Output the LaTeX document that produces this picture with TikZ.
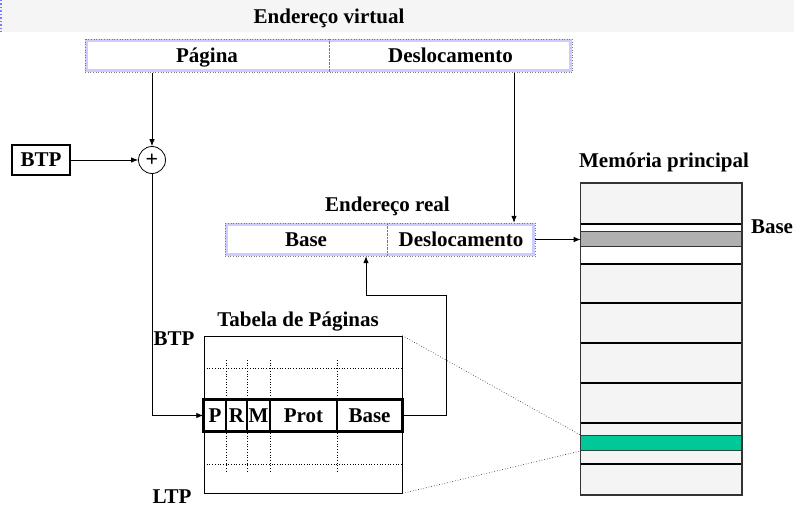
\documentclass[tikz,border=0pt]{standalone}
\usepackage{fontspec}
\setmainfont{Liberation Serif}
\usetikzlibrary{arrows.meta}
\definecolor{bannergray}{HTML}{F5F5F5}
\definecolor{cellgray}{HTML}{F4F4F4}
\definecolor{basegray}{HTML}{B0B0B0}
\definecolor{lavender}{HTML}{CCCCFF}
\definecolor{framegray}{HTML}{7A7A7A}
\definecolor{pagegreen}{HTML}{00C896}
\definecolor{pageedge}{HTML}{1F4A3C}
\definecolor{memedge}{HTML}{333333}
\begin{document}
\begin{tikzpicture}[x=1pt,y=-1pt,
  every node/.style={font=\fontsize{21}{24}\bfseries\selectfont,
    inner sep=0pt, text height=14pt, text depth=1pt},
  arr/.style={-{Latex[length=7pt,width=5.5pt]}, line width=0.8pt},
  field/.style={rectangle, fill=white, minimum height=33pt},
  cell/.style={rectangle, draw, fill=white, line width=1.5pt,
    minimum height=31pt},
  guide/.style={dotted, line width=0.7pt},
  memline/.style={line width=1.2pt, black},
]
\useasboundingbox (0,0) rectangle (794,508);

% title banner
\fill[bannergray] (0,0) rectangle (794,32);
\draw[lavender!60!blue, dotted, line width=1.5pt] (0.75,0) -- (0.75,32);
\node (tvirt) at (329,17) {Endereço virtual};

% virtual address: page | offset
\node[field, minimum width=244pt] (vpag) at (207,56) {Página};
\node[field, minimum width=243pt] (vdesl) at (450.5,56) {Deslocamento};
\draw[lavender, line width=3pt] (86.5,41) rectangle (570.5,71);
\draw[framegray, dotted, line width=0.6pt] (vpag.north west) rectangle (vdesl.south east);
\draw[framegray, line width=1pt, dash pattern=on 0.7pt off 0.7pt] (vpag.north east) -- (vpag.south east);

% page-table base register and adder
\node[draw, line width=2pt, minimum width=58pt, minimum height=30pt] (btp) at (41,160) {BTP};
\node[circle, draw, line width=0.8pt, minimum size=27pt, text height=, text depth=,
      font=\fontsize{22}{24}\bfseries\selectfont] (sum) at (152,160) {+};
\draw[arr] (sum |- vpag.south) -- (sum.north);
\draw[arr] (btp.east) -- (sum.west);

% real address: base | offset
\node (treal) at (387.5,205) {Endereço real};
\node[field, minimum width=162pt] (rbase) at (306,239.5) {Base};
\node[field, minimum width=148pt] (rdesl) at (461,239.5) {Deslocamento};
\draw[lavender, line width=3pt] (226.5,224.5) rectangle (533.5,254.5);
\draw[framegray, dotted, line width=0.6pt] (rbase.north west) rectangle (rdesl.south east);
\draw[framegray, line width=1pt, dash pattern=on 0.7pt off 0.7pt] (rbase.north east) -- (rbase.south east);

\coordinate (dx) at (514,0);
\draw[arr] (dx |- vdesl.south) -- (dx |- rdesl.north);

% page table
\node (ttab) at (298,320) {Tabela de Páginas};
\node (lbtp) at (174,339) {BTP};
\node (lltp) at (172,497) {LTP};
\node[draw, line width=0.8pt, minimum width=198pt, minimum height=157pt] (tab) at (303,414.5) {};
\foreach \y in {368,464}
  \draw[guide] (204,\y) -- (402,\y);
\foreach \x in {226,247,270,337}
  \draw[guide] (\x,360) -- (\x,473);
\node[cell, minimum width=22pt]   (cP)    at (215,415.5)   {P};
\node[cell, minimum width=21pt]   (cR)    at (236.5,415.5) {R};
\node[cell, minimum width=23pt]   (cM)    at (258.5,415.5) {M};
\node[cell, minimum width=67pt]   (cProt) at (303.5,415.5) {Prot};
\node[cell, minimum width=65pt]   (cBase) at (369.5,415.5) {Base};
\draw[line width=2.5pt] (cP.north west) rectangle (cBase.south east);

\draw[arr] (sum.south) |- (cP.west);

% main memory
\node (tmem) at (664,161) {Memória principal};
\node[rectangle, fill=cellgray, minimum width=161pt, minimum height=312pt] (mem) at (661.35,339) {};
\fill[white] (580.7,224) rectangle (742,232);
\fill[white] (580.7,246) rectangle (742,264);
\node[rectangle, draw=memedge, fill=basegray, line width=1pt,
      minimum width=161pt, minimum height=14pt] (mbase) at (661.35,239) {};
\node[rectangle, draw=pageedge, fill=pagegreen, line width=1pt,
      minimum width=161pt, minimum height=8pt] (mpage) at (661.35,443) {};
\draw[line width=2.5pt] (580.7,224) -- (742,224);
\foreach \y in {264,303,343,383,423,464}
  \draw[memline] (580.7,\y) -- (742,\y);
\draw[memedge, line width=1.6pt] (mem.north west) rectangle (mem.south east);
\node (lbase) at (772,227) {Base};

\draw[arr] (rdesl.east) -- (rdesl.east -| mem.west);

% zoom of the selected entry
\draw[guide, black!75] (tab.north east) -- (mpage.north west);
\draw[guide, black!75] (tab.south east) -- (mpage.south west);

% frame base back to the real address
\coordinate (ret) at (446.7,295);
\coordinate (up) at (366,0);
\draw[arr] (cBase.east) -| (ret) -| (up |- rbase.south);
\end{tikzpicture}
\end{document}
